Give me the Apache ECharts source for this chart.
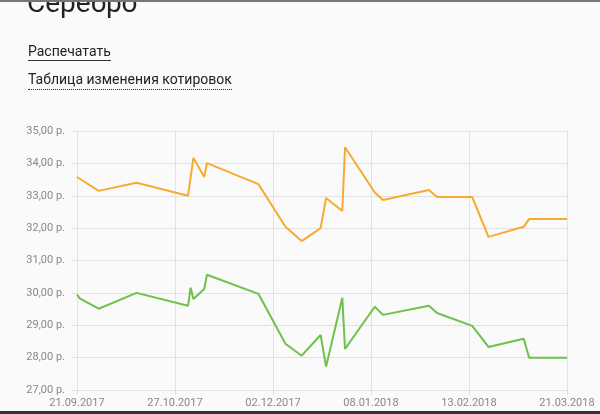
<!DOCTYPE html>
<html>
<head>
<meta charset="utf-8">
<script src="https://cdn.jsdelivr.net/npm/echarts@6/dist/echarts.min.js"></script>
<style>
  html, body { margin: 0; padding: 0; background: #fafafa; font-family: Roboto, sans-serif; }
  #page { position: relative; width: 600px; height: 414px; overflow: hidden; }
  #topBar { position: absolute; left: 0; top: 0; width: 600px; height: 2px; background: #777; }
  #bottomBar { position: absolute; left: 0; bottom: 0; width: 600px; height: 3px; background: #333; }
  #title { position: absolute; left: 27px; top: -14px; font-size: 28px; color: #222; }
  .link { position: absolute; left: 28px; font-size: 14px; color: #222; line-height: 18px; }
  #print { top: 42px; border-bottom: 1px solid #333; }
  #table { top: 70px; border-bottom: 1px dotted #333; padding-bottom: 1px; }
  #chart { position: absolute; left: 0; top: 0; width: 600px; height: 414px; }
</style>
</head>
<body>
<div id="page">
  <div id="chart"></div>
  <div id="title">Серебро</div>
  <div class="link" id="print">Распечатать</div>
  <div class="link" id="table">Таблица изменения котировок</div>
  <div id="topBar"></div>
  <div id="bottomBar"></div>
</div>
<script>
// котировки (даты и цены)
const startDate = '21.09.2017'
const endDate = '21.03.2018'

const orangeDates = ['21.09.2017', '29.09.2017', '13.10.2017', '01.11.2017', '03.11.2017', '07.11.2017',
  '08.11.2017', '27.11.2017', '07.12.2017', '13.12.2017', '20.12.2017', '22.12.2017', '28.12.2017',
  '29.12.2017', '09.01.2018', '12.01.2018', '29.01.2018', '01.02.2018', '14.02.2018', '20.02.2018',
  '05.03.2018', '07.03.2018', '21.03.2018']
const orangeValues = [33.58, 33.15, 33.40, 33.00, 34.17, 33.58, 34.01, 33.36, 32.04, 31.60, 32.00, 32.93,
  32.53, 34.50, 33.10, 32.87, 33.18, 32.96, 32.96, 31.73, 32.04, 32.28, 32.28]

const greenDates = ['21.09.2017', '22.09.2017', '29.09.2017', '13.10.2017', '01.11.2017', '02.11.2017',
  '03.11.2017', '07.11.2017', '08.11.2017', '27.11.2017', '07.12.2017', '13.12.2017', '20.12.2017',
  '22.12.2017', '28.12.2017', '29.12.2017', '09.01.2018', '12.01.2018', '29.01.2018', '01.02.2018',
  '14.02.2018', '20.02.2018', '05.03.2018', '07.03.2018', '21.03.2018']
const greenValues = [29.95, 29.83, 29.51, 30.00, 29.60, 30.16, 29.81, 30.12, 30.56, 29.97, 28.43, 28.06,
  28.70, 27.72, 29.85, 28.27, 29.57, 29.32, 29.60, 29.38, 28.98, 28.33, 28.58, 28.00, 28.00]

const DAY = 24 * 3600 * 1000
const toMs = (s) => {
  const [d, m, y] = s.split('.').map(Number)
  return Date.UTC(y, m - 1, d)
}
const startMs = toMs(startDate)
const dayOf = (s) => Math.round((toMs(s) - startMs) / DAY)
const totalDays = dayOf(endDate) // 181
const pad = (n) => (n < 10 ? '0' + n : '' + n)
const dayLabel = (v) => {
  const dt = new Date(startMs + Math.round(v) * DAY)
  return pad(dt.getUTCDate()) + '.' + pad(dt.getUTCMonth() + 1) + '.' + dt.getUTCFullYear()
}

const myChart = echarts.init(document.getElementById('chart'))
const gridColor = '#e2e2e2'
const labelColor = '#888'

const option = {
  animation: false,
  grid: { left: 77, right: 33, top: 131, bottom: 24 },
  xAxis: {
    type: 'value',
    min: 0,
    max: totalDays,
    interval: totalDays / 5,
    axisLine: { show: true, lineStyle: { color: gridColor } },
    axisTick: { show: true, length: 5, lineStyle: { color: gridColor } },
    splitLine: { show: true, lineStyle: { color: gridColor } },
    axisLabel: {
      color: labelColor,
      fontSize: 11,
      fontFamily: 'Roboto',
      margin: 8,
      formatter: (v) => dayLabel(v),
    },
  },
  yAxis: {
    type: 'value',
    min: 27,
    max: 35,
    interval: 1,
    axisLine: { show: true, lineStyle: { color: gridColor } },
    axisTick: { show: true, length: 5, lineStyle: { color: gridColor } },
    splitLine: { show: true, lineStyle: { color: gridColor } },
    axisLabel: {
      color: labelColor,
      fontSize: 11,
      fontFamily: 'Roboto',
      margin: 12,
      formatter: (v) => v.toFixed(2).replace('.', ',') + ' р.',
    },
  },
  series: [
    {
      name: 'orange',
      type: 'line',
      showSymbol: false,
      lineStyle: { color: '#f5ab30', width: 2 },
      itemStyle: { color: '#f5ab30' },
      data: orangeDates.map((d, i) => [dayOf(d), orangeValues[i]]),
    },
    {
      name: 'green',
      type: 'line',
      showSymbol: false,
      lineStyle: { color: '#6cc24a', width: 2 },
      itemStyle: { color: '#6cc24a' },
      data: greenDates.map((d, i) => [dayOf(d), greenValues[i]]),
    },
  ],
}

myChart.setOption(option, true)
</script>
</body>
</html>
